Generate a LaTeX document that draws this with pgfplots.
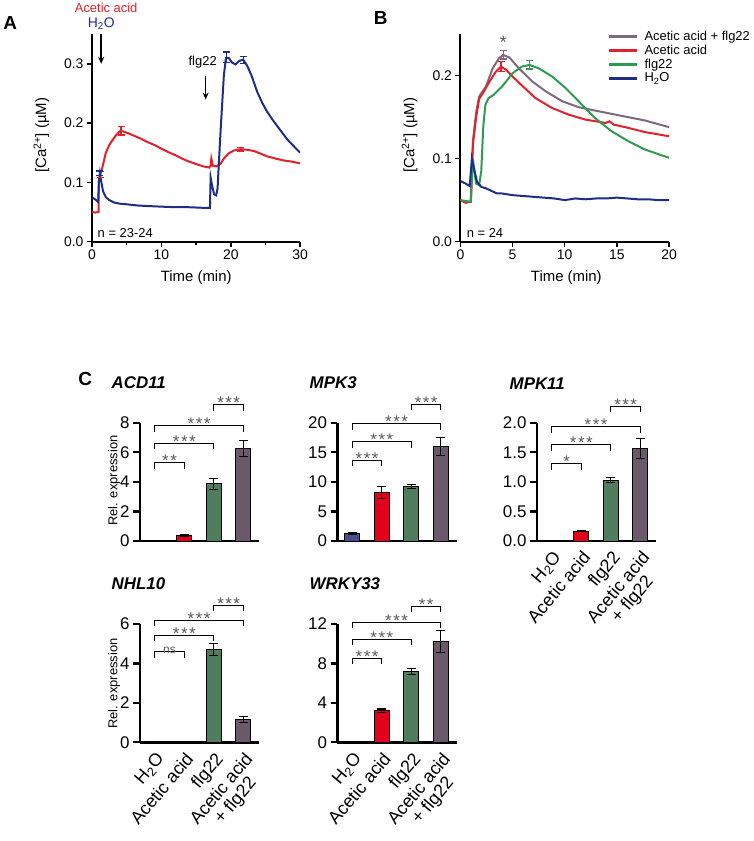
\documentclass[border=0pt]{standalone}
\usepackage{fontspec}
\setmainfont{Liberation Sans}
\usepackage{pgfplots}
\pgfplotsset{compat=1.18}
\usetikzlibrary{arrows.meta}

\definecolor{cred}{HTML}{E4202A}
\definecolor{cnavy}{HTML}{1E2D86}
\definecolor{cgreen}{HTML}{2F9A52}
\definecolor{cpurp}{HTML}{7E6A7E}
\definecolor{bblue}{HTML}{4A4A8E}
\definecolor{bred}{HTML}{E2001A}
\definecolor{bgreen}{HTML}{4F7D5E}
\definecolor{bpurp}{HTML}{6B596B}
\definecolor{stargray}{HTML}{5A5A5A}

\newcommand{\fs}[1]{\fontsize{#1}{#1}\selectfont}
\newcommand{\tS}{*\hspace{1.5pt}*\hspace{1.5pt}*}
\newcommand{\dS}{*\hspace{1.5pt}*}
% significance bracket: x1, x2, y, label
\newcommand{\brk}[4]{%
  \draw[black, line width=0.9pt] ([yshift=-6pt]axis cs:#1,#3) -- (axis cs:#1,#3)
    -- node[midway, above, text=stargray, font=\fs{17}, inner sep=0pt, yshift=-4.5pt] {#4}
    (axis cs:#2,#3) -- ([yshift=-6pt]axis cs:#2,#3);}

\pgfplotsset{
  timeax/.style={
    scale only axis, anchor=south west,
    axis x line*=bottom, axis y line*=left,
    axis line style={line width=2pt},
    tick align=outside, major tick length=5pt, minor tick length=3pt,
    tick style={black, line width=1.5pt},
    ymin=0, tick label style={font=\fs{14}},
  },
  errpt/.style={only marks, mark=*, mark size=0pt, forget plot, color=#1,
    error bars/.cd, y dir=both, y explicit,
    error bar style={color=#1, line width=1.3pt},
    error mark options={rotate=90, color=#1, mark size=3.5pt, line width=1.3pt}},
  barax/.style={
    scale only axis, anchor=south west, width=120pt, height=119pt,
    xmin=0.5, xmax=4.54, ymin=0, clip=false,
    axis x line*=bottom, axis y line*=left,
    axis line style={line width=2.4pt},
    tick align=outside, major tick length=7pt,
    tick style={black, line width=2.2pt},
    xtick style={draw=none},
    yticklabel style={font=\fs{17}},
  },
  barlab/.style={
    xtick={1,2,3,4},
    xticklabels={H\textsubscript{2}O, Acetic acid, flg22, {Acetic acid\\+ flg22}},
    xticklabel style={font=\fs{18}, rotate=50, anchor=north east, align=center, inner sep=1pt},
  },
  barpl/.style={ybar, bar width=15pt, bar shift=0pt, fill=#1, draw=black, line width=1pt,
    error bars/.cd, y dir=both, y explicit,
    error bar style={black, line width=1.1pt},
    error mark options={rotate=90, black, mark size=4.5pt, line width=1.1pt}},
}

\begin{document}
\begin{tikzpicture}
\path (0,0) rectangle (755pt,-841pt);

% ---------------- Panel A ----------------
\begin{axis}[timeax, at={(90.7pt,-240.7pt)}, width=209.3pt, height=208.4pt,
  xmin=0, xmax=30, ymax=0.35,
  xtick={0,10,20,30}, xticklabels={0,10,20,30}, minor xtick={5,15,25},
  ytick={0,0.1,0.2,0.3}, yticklabels={0.0,0.1,0.2,0.3}]
\addplot[cred, line width=2pt] coordinates {
 (0,0.050) (0.5,0.049) (0.95,0.050) (1.0,0.105) (1.2,0.113) (1.5,0.125) (2.0,0.150)
 (2.5,0.163) (3.0,0.172) (3.5,0.180) (4.0,0.186) (4.5,0.186) (5.2,0.183) (6.0,0.179)
 (7.0,0.174) (8.0,0.168) (9.0,0.163) (10.0,0.157) (11.0,0.151) (12.0,0.146) (13.0,0.140)
 (14.0,0.135) (15.0,0.131) (16.0,0.127) (16.9,0.125) (17.1,0.128) (17.2,0.140) (17.4,0.128)
 (18.0,0.127) (18.5,0.131) (19.0,0.140) (19.7,0.149) (20.5,0.154) (21.4,0.156) (22.3,0.155)
 (23.3,0.153) (24.2,0.149) (25.2,0.144) (26.5,0.140) (27.6,0.137) (28.8,0.135) (30.0,0.132)};
\addplot[cnavy, line width=2pt] coordinates {
 (0,0.075) (0.5,0.071) (0.9,0.067) (1.0,0.100) (1.15,0.115) (1.3,0.104) (1.6,0.085)
 (2.0,0.075) (2.5,0.070) (3.2,0.066) (4.0,0.064) (5.0,0.063) (6.5,0.061) (8.0,0.060)
 (10.0,0.059) (12.0,0.058) (14.0,0.058) (16.0,0.057) (17.0,0.057) (17.1,0.108) (17.3,0.095)
 (17.6,0.080) (17.9,0.078) (18.1,0.090) (18.5,0.180) (19.0,0.280) (19.3,0.310) (19.7,0.310)
 (20.2,0.302) (20.7,0.299) (21.2,0.305) (21.8,0.307) (22.4,0.296) (23.0,0.280) (23.8,0.253)
 (24.5,0.235) (25.2,0.220) (26.0,0.206) (26.7,0.195) (27.4,0.184) (28.1,0.173) (29.0,0.162)
 (30.0,0.150)};
\addplot[errpt=cred] coordinates {(1.2,0.113) +- (0,0.005) (4.2,0.187) +- (0,0.007) (21.4,0.156) +- (0,0.003)};
\addplot[errpt=cnavy] coordinates {(1.15,0.115) +- (0,0.004) (19.4,0.311) +- (0,0.009) (21.8,0.307) +- (0,0.006)};
\end{axis}

\node[font=\fs{19}\bfseries] at (8.5pt,-21pt) {A};
\node[font=\fs{13}, text=cred] at (105pt,-6pt) {Acetic acid};
\node[font=\fs{14}, text=cnavy] at (100pt,-22pt) {H\textsubscript{2}O};
\draw[-{Stealth[length=7pt,width=6pt]}, line width=1.5pt] (100pt,-32pt) -- (100pt,-62pt);
\node[font=\fs{13}] at (202pt,-60pt) {flg22};
\draw[-{Stealth[length=7pt,width=6pt]}, line width=1.5pt] (205pt,-74pt) -- (205pt,-98pt);
\node[font=\fs{13}, anchor=west] at (93pt,-232pt) {n = 23-24};
\node[font=\fs{15}, rotate=90] at (40pt,-134pt) {[Ca\textsuperscript{2+}] (µM)};
\node[font=\fs{15}] at (195.5pt,-277pt) {Time (min)};

% ---------------- Panel B ----------------
\begin{axis}[timeax, at={(461pt,-240.7pt)}, width=209.7pt, height=208.4pt,
  xmin=0, xmax=20, ymax=0.25,
  xtick={0,5,10,15,20}, xticklabels={0,5,10,15,20},
  ytick={0,0.1,0.2}, yticklabels={0.0,0.1,0.2},
  legend style={at={(0.69,1.03)}, anchor=north west, draw=none, fill=none,
    font=\fs{13}, row sep=2pt, column sep=6pt, nodes={inner sep=0.6pt}},
  legend cell align=left,
  legend image code/.code={\draw[#1, line width=2.6pt] (0pt,0pt) -- (28pt,0pt);}]
\addplot[cpurp, line width=2pt] coordinates {
 (0,0.050) (0.5,0.047) (1.0,0.048) (1.2,0.121) (1.5,0.155) (1.8,0.175) (2.45,0.187)
 (3.1,0.209) (3.7,0.221) (4.1,0.225) (4.7,0.222) (5.6,0.209) (6.9,0.193) (8.2,0.181)
 (9.8,0.169) (11.35,0.162) (12.9,0.158) (14.5,0.154) (16.1,0.150) (17.7,0.146) (20.0,0.138)};
\addplot[cred, line width=2pt] coordinates {
 (0,0.050) (0.5,0.047) (1.0,0.048) (1.2,0.117) (1.5,0.149) (1.8,0.172) (2.3,0.182)
 (2.8,0.193) (3.4,0.205) (3.9,0.211) (4.4,0.207) (5.0,0.199) (6.0,0.187) (7.2,0.173)
 (8.8,0.161) (10.4,0.153) (12.0,0.147) (13.0,0.145) (13.9,0.143) (14.3,0.145) (14.7,0.141)
 (15.8,0.138) (17.7,0.132) (20.0,0.127)};
\addplot[cgreen, line width=2pt] coordinates {
 (0,0.050) (0.5,0.049) (1.0,0.048) (1.2,0.100) (1.5,0.070) (1.8,0.068) (2.0,0.085)
 (2.2,0.140) (2.4,0.165) (2.7,0.173) (3.2,0.177) (4.0,0.187) (5.0,0.203) (5.9,0.211)
 (6.6,0.213) (7.5,0.209) (8.8,0.199) (10.1,0.185) (11.35,0.169) (12.9,0.149) (14.5,0.133)
 (16.1,0.121) (17.7,0.111) (20.0,0.101)};
\addplot[cnavy, line width=2pt] coordinates {
 (0,0.073) (0.5,0.070) (0.9,0.067) (1.1,0.100) (1.3,0.088) (1.6,0.072) (2.0,0.066)
 (2.5,0.064) (3.0,0.061) (3.5,0.058) (4.0,0.058) (5.0,0.056) (6.0,0.055) (7.0,0.054)
 (8.0,0.053) (9.0,0.052) (10.0,0.050) (11.0,0.052) (12.0,0.051) (13.0,0.052) (14.0,0.052)
 (15.0,0.053) (16.0,0.052) (17.0,0.051) (18.0,0.051) (19.0,0.050) (20.0,0.050)};
\addplot[errpt=cpurp] coordinates {(4.1,0.225) +- (0,0.005)};
\addplot[errpt=cred] coordinates {(3.9,0.211) +- (0,0.006)};
\addplot[errpt=cgreen] coordinates {(6.6,0.213) +- (0,0.005)};
\node[font=\fs{18}, text=stargray] at (axis cs:4.13,0.240) {*};
\legend{Acetic acid + flg22, Acetic acid, flg22, H\textsubscript{2}O}
\end{axis}

\node[font=\fs{19}\bfseries] at (381pt,-16pt) {B};
\node[font=\fs{13}, anchor=west] at (464pt,-232pt) {n = 24};
\node[font=\fs{15}, rotate=90] at (410pt,-134pt) {[Ca\textsuperscript{2+}] (µM)};
\node[font=\fs{15}] at (567.5pt,-277pt) {Time (min)};

% ---------------- Panel C ----------------
\node[font=\fs{19}\bfseries] at (84pt,-379pt) {C};

% ACD11
\begin{axis}[barax, at={(139pt,-541.7pt)}, ymax=8, ytick={0,2,4,6,8}, yticklabels={0,2,4,6,8}, xtick=\empty]
\addplot[barpl=bblue] coordinates {(1,0.03) +- (0,0)};
\addplot[barpl=bred] coordinates {(2,0.38) +- (0,0.05)};
\addplot[barpl=bgreen] coordinates {(3,3.87) +- (0,0.38)};
\addplot[barpl=bpurp] coordinates {(4,6.26) +- (0,0.55)};
\brk{1}{2}{5.3}{\dS}
\brk{1}{3}{6.6}{\tS}
\brk{1}{4}{7.8}{\tS}
\brk{3}{4}{9.2}{\tS}
\end{axis}
\node[font=\fs{17}\bfseries\itshape, anchor=west] at (107pt,-382pt) {ACD11};
\node[font=\fs{13}, rotate=90] at (113pt,-481pt) {Rel. expression};

% MPK3
\begin{axis}[barax, at={(337.5pt,-541.7pt)}, ymax=20, ytick={0,5,10,15,20}, yticklabels={0,5,10,15,20}, xtick=\empty]
\addplot[barpl=bblue] coordinates {(1,1.25) +- (0,0.12)};
\addplot[barpl=bred] coordinates {(2,8.2) +- (0,1.05)};
\addplot[barpl=bgreen] coordinates {(3,9.2) +- (0,0.35)};
\addplot[barpl=bpurp] coordinates {(4,15.95) +- (0,1.5)};
\brk{1}{2}{13.7}{\tS}
\brk{1}{3}{16.8}{\tS}
\brk{1}{4}{19.8}{\tS}
\brk{3}{4}{23.1}{\tS}
\end{axis}
\node[font=\fs{17}\bfseries\itshape, anchor=west] at (306pt,-382pt) {MPK3};

% MPK11
\begin{axis}[barax, barlab, at={(538pt,-541.7pt)}, ymax=2, ytick={0,0.5,1,1.5,2}, yticklabels={0.0,0.5,1.0,1.5,2.0}]
\addplot[barpl=bblue] coordinates {(1,0.01) +- (0,0)};
\addplot[barpl=bred] coordinates {(2,0.17) +- (0,0.015)};
\addplot[barpl=bgreen] coordinates {(3,1.03) +- (0,0.04)};
\addplot[barpl=bpurp] coordinates {(4,1.57) +- (0,0.17)};
\brk{1}{2}{1.31}{*}
\brk{1}{3}{1.63}{\tS}
\brk{1}{4}{1.93}{\tS}
\brk{3}{4}{2.28}{\tS}
\end{axis}
\node[font=\fs{17}\bfseries\itshape, anchor=west] at (507pt,-383pt) {MPK11};

% NHL10
\begin{axis}[barax, barlab, at={(139pt,-744pt)}, ymax=6, ytick={0,2,4,6}, yticklabels={0,2,4,6}]
\addplot[barpl=bblue] coordinates {(1,0) +- (0,0)};
\addplot[barpl=bred] coordinates {(2,0) +- (0,0)};
\addplot[barpl=bgreen] coordinates {(3,4.7) +- (0,0.31)};
\addplot[barpl=bpurp] coordinates {(4,1.15) +- (0,0.16)};
\brk{1}{2}{4.6}{\fs{12}\raisebox{2pt}{ns}}
\brk{1}{3}{5.44}{\tS}
\brk{1}{4}{6.2}{\tS}
\brk{3}{4}{6.96}{\tS}
\end{axis}
\node[font=\fs{17}\bfseries\itshape, anchor=west] at (107pt,-585pt) {NHL10};
\node[font=\fs{13}, rotate=90] at (113pt,-685pt) {Rel. expression};

% WRKY33
\begin{axis}[barax, barlab, at={(337.5pt,-744pt)}, ymax=12, ytick={0,4,8,12}, yticklabels={0,4,8,12}]
\addplot[barpl=bblue] coordinates {(1,0.08) +- (0,0.02)};
\addplot[barpl=bred] coordinates {(2,3.2) +- (0,0.18)};
\addplot[barpl=bgreen] coordinates {(3,7.2) +- (0,0.33)};
\addplot[barpl=bpurp] coordinates {(4,10.2) +- (0,1.1)};
\brk{1}{2}{8.53}{\tS}
\brk{1}{3}{10.43}{\tS}
\brk{1}{4}{12.17}{\tS}
\brk{3}{4}{13.78}{\dS}
\end{axis}
\node[font=\fs{17}\bfseries\itshape, anchor=west] at (306pt,-585pt) {WRKY33};

\end{tikzpicture}
\end{document}
